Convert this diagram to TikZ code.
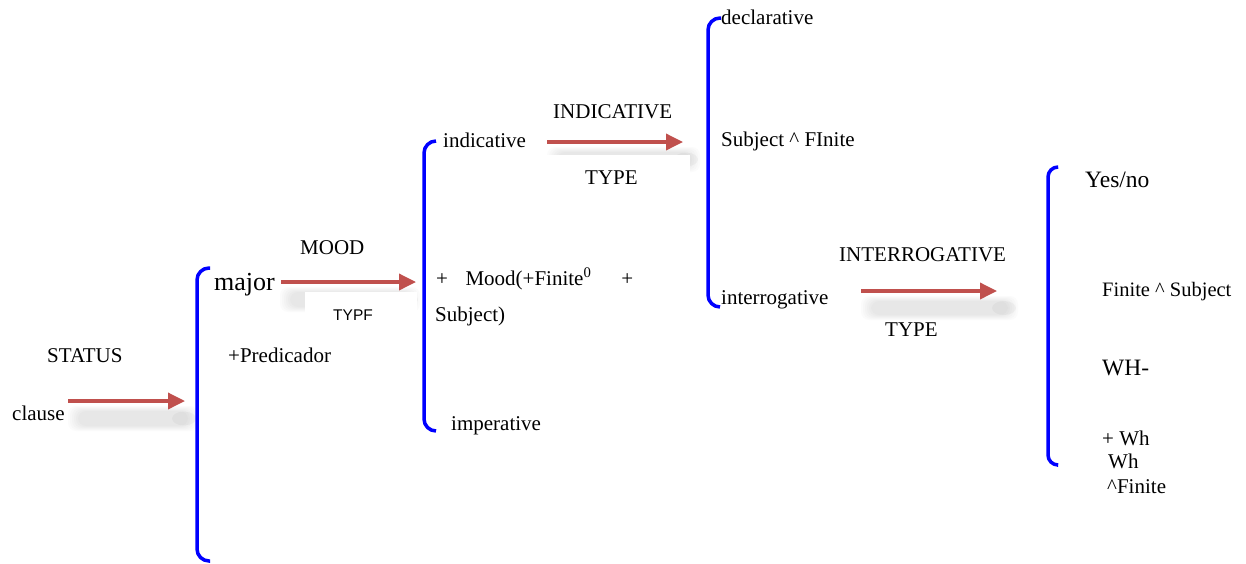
\documentclass[tikz,border=0pt]{standalone}
\usepackage{fontspec}
\setmainfont{Liberation Serif}
\newfontfamily\serf{Liberation Serif}
\newfontfamily\typffont{Liberation Sans}
\usetikzlibrary{arrows.meta}
\definecolor{arrred}{RGB}{192,80,77}
\newcommand\softshade[4]{%
  \foreach \k in {0,...,5}{%
    \fill[black,opacity=0.014,rounded corners=8pt] ({#1+\k*2},{#2+\k}) rectangle ({#3-\k*2},{#4-\k});}%
  \fill[black,opacity=0.03] ({#3-14},{(#2+#4)/2}) ellipse (12 and 7);}
\begin{document}
\begin{tikzpicture}[x=1pt,y=-1pt,
  lbl/.style={anchor=base west,inner sep=0pt,font=\serf\fontsize{21}{25}\selectfont},
  big/.style={lbl,font=\serf\fontsize{26}{30}\selectfont},
  mid/.style={lbl,font=\serf\fontsize{23.5}{28}\selectfont},
  brk/.style={draw=blue,line width=3.5pt,rounded corners=12pt},
  arr/.style={draw=arrred,line width=3.5pt,-{Triangle[length=17pt,width=16pt]}},
  whitebox/.style={fill=white,draw=none}]
\fill[white] (0,0) rectangle (1246,563);
\useasboundingbox (0,0) rectangle (1246,563);

% shadows and white label boxes
\softshade{68}{406}{198}{431}
\softshade{280}{287}{420}{312}
\fill[whitebox] (305,292) rectangle (417,335);
\softshade{547}{147}{700}{172}
\fill[whitebox] (457,155) rectangle (690,200);
\softshade{861}{296}{1018}{320}

% brackets
\draw[brk] (210,268) -- (197,268) -- (197,561) -- (210,561);
\draw[brk] (436,141) -- (424,141) -- (424,431) -- (436,431);
\draw[brk] (721,18) -- (708,18) -- (708,307) -- (720,307);
\draw[brk,rounded corners=10pt] (1057,167) -- (1048,167) -- (1048,465) -- (1057,465);

% labels
\node[lbl] (status) at (47,362) {STATUS};
\node[lbl] (clause) at (12,420) {clause};
\node[big] (major) at (214,290) {major};
\node[lbl] (pred) at (228,362) {+Predicador};
\node[lbl] (mood) at (300,254) {MOOD};
\node[anchor=base west,inner sep=0pt,font=\typffont\fontsize{15.5}{18}\selectfont] (typf) at (333,320) {TYPF};
\node[lbl] (indic) at (443,147) {indicative};
\node[lbl] (INDIC) at (553,118) {INDICATIVE};
\node[lbl] (type1) at (585,184) {TYPE};
\node[lbl] (moodf) at (436,285) {+\hspace{17.5pt}Mood(+Finite\textsuperscript{0}\hspace{30pt}+};
\node[lbl] (subj) at (435,321) {Subject)};
\node[lbl] (imper) at (451,430) {imperative};
\node[lbl] (decl) at (721,24) {declarative};
\node[lbl] (sf) at (721,146) {Subject \^{} FInite};
\node[lbl] (inter) at (721,304) {interrogative};
\node[lbl] (INTER) at (839,261) {INTERROGATIVE};
\node[lbl] (type2) at (885,336) {TYPE};
\node[mid] (yesno) at (1085,187) {Yes/no};
\node[lbl,font=\serf\fontsize{20.5}{24}\selectfont] (fs) at (1102,296) {Finite \^{} Subject};
\node[mid] (wh) at (1102,375) {WH-};
\node[lbl] (pwh) at (1102,445) {+ Wh};
\node[lbl] (wh2) at (1108,468) {Wh};
\node[lbl] (wfin) at (1107,493) {\^{}Finite};

% arrows
\coordinate (a1s) at (68,401);  \coordinate (a1e) at (185,401);
\coordinate (a2s) at (281,282); \coordinate (a2e) at (416,282);
\coordinate (a3s) at (547,142); \coordinate (a3e) at (683,142);
\coordinate (a4s) at (861,291); \coordinate (a4e) at (997,291);
\draw[arr] (a1s) -- (a1e);
\draw[arr] (a2s) -- (a2e);
\draw[arr] (a3s) -- (a3e);
\draw[arr] (a4s) -- (a4e);
\end{tikzpicture}
\end{document}
